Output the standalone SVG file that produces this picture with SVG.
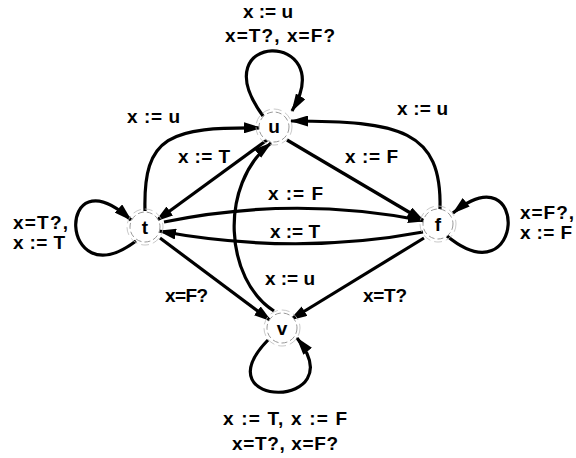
<svg xmlns="http://www.w3.org/2000/svg" width="576" height="458" viewBox="0 0 576 458">
<style>
.e{fill:none;stroke:#000;stroke-width:3.2;marker-end:url(#ah)}
.lb{font-family:"Liberation Sans",Arial,sans-serif;font-size:19px;font-weight:bold;fill:#000}
.nl{font-family:"Liberation Sans",Arial,sans-serif;font-size:19px;font-weight:bold;fill:#000;text-anchor:middle}
.c1{fill:#fff;stroke:#999;stroke-width:1;stroke-dasharray:6,3}
.c2{fill:none;stroke:#bbb;stroke-width:0.8;stroke-dasharray:8,4}
</style>
<defs>
<marker id="ah" markerUnits="userSpaceOnUse" markerWidth="18" markerHeight="11" refX="17" refY="5.5" orient="auto" viewBox="0 0 18 11">
<path d="M0,0 L18,5.5 L0,11 z" fill="#000"/>
</marker>
</defs>
<g id="connectors">
<path class="e" d="M263,116 C200,30 340,30 292,111"/>
<path class="e" d="M136,241 C58,300 55,150 131,220"/>
<path class="e" d="M447,236 C525,300 530,150 453,213"/>
<path class="e" d="M268,340 C200,410 355,410 297,338"/>
<path class="e" d="M145,211 C143,135 170,127 261,128"/>
<path class="e" d="M440,209 C442,130 400,121 291,121"/>
<path class="e" d="M267,140 L156,221"/>
<path class="e" d="M287,140 L424,221"/>
<path class="e" d="M164,222 Q295,195 425,221"/>
<path class="e" d="M423,232 Q295,256 159,231"/>
<path class="e" d="M160,238 L271,321"/>
<path class="e" d="M424,238 L290,320"/>
<path class="e" d="M274,311 C225,280 218,185 271,143"/>
</g>
<g id="labels">
<text class="lb" x="243" y="18" textLength="50" lengthAdjust="spacing">x := u</text>
<text class="lb" x="225" y="42" textLength="110" lengthAdjust="spacing">x=T?, x=F?</text>
<text class="lb" x="13" y="229" textLength="55" lengthAdjust="spacing">x=T?,</text>
<text class="lb" x="13" y="249" textLength="52" lengthAdjust="spacing">x := T</text>
<text class="lb" x="520" y="219" textLength="54" lengthAdjust="spacing">x=F?,</text>
<text class="lb" x="520" y="239" textLength="52" lengthAdjust="spacing">x := F</text>
<text class="lb" x="223" y="425" textLength="124" lengthAdjust="spacing">x := T, x := F</text>
<text class="lb" x="232" y="450" textLength="106" lengthAdjust="spacing">x=T?, x=F?</text>
<text class="lb" x="127" y="123" textLength="53" lengthAdjust="spacing">x := u</text>
<text class="lb" x="178" y="163" textLength="52" lengthAdjust="spacing">x := T</text>
<text class="lb" x="345" y="163" textLength="53" lengthAdjust="spacing">x := F</text>
<text class="lb" x="397" y="115" textLength="51" lengthAdjust="spacing">x := u</text>
<text class="lb" x="268" y="200" textLength="55" lengthAdjust="spacing">x := F</text>
<text class="lb" x="270" y="238" textLength="50" lengthAdjust="spacing">x := T</text>
<text class="lb" x="265" y="285" textLength="50" lengthAdjust="spacing">x := u</text>
<text class="lb" x="165" y="302" textLength="43" lengthAdjust="spacing">x=F?</text>
<text class="lb" x="363" y="302" textLength="44" lengthAdjust="spacing">x=T?</text>
</g>
<g id="node-u">
<circle class="c1" cx="274" cy="127" r="15"/>
<circle class="c2" cx="274" cy="127" r="18"/>
<text class="nl" x="274" y="133">u</text>
</g>
<g id="node-t">
<circle class="c1" cx="145" cy="227" r="15"/>
<circle class="c2" cx="145" cy="227" r="18"/>
<text class="nl" x="145" y="234">t</text>
</g>
<g id="node-f">
<circle class="c1" cx="438" cy="224" r="15"/>
<circle class="c2" cx="438" cy="224" r="18"/>
<text class="nl" x="438" y="231">f</text>
</g>
<g id="node-v">
<circle class="c1" cx="282" cy="328" r="15"/>
<circle class="c2" cx="282" cy="328" r="18"/>
<text class="nl" x="282" y="335">v</text>
</g>
</svg>
